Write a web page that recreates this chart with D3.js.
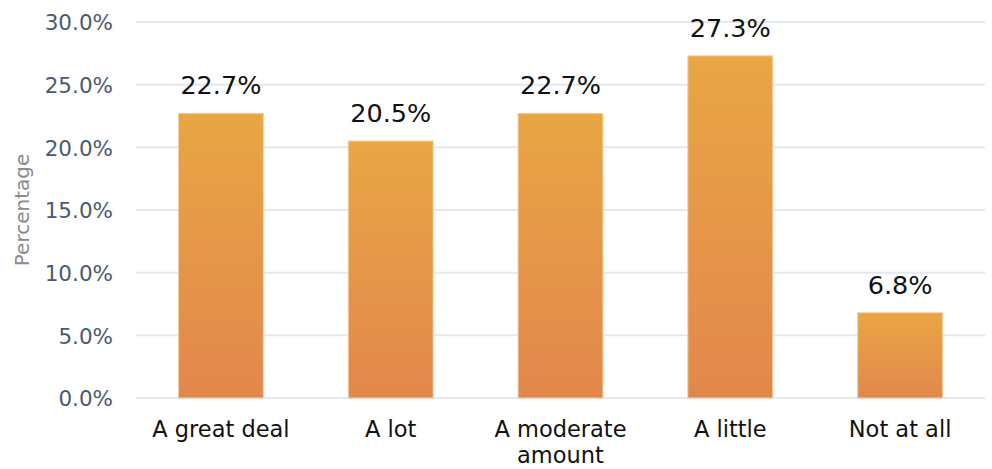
<!DOCTYPE html>
<html>
<head>
<meta charset="utf-8">
<script src="https://cdn.jsdelivr.net/npm/d3@7"></script>
<style>
  body { margin: 0; background: #fff; }
  text { font-family: "DejaVu Sans", "Open Sans", sans-serif; }
</style>
</head>
<body>
<svg id="chart" width="992" height="469"></svg>
<script>
var categories = ["A great deal", "A lot", "A moderate amount", "A little", "Not at all"];
var values = [22.7, 20.5, 22.7, 27.3, 6.8];
var yTicks = [0, 5, 10, 15, 20, 25, 30];

var svg = d3.select("#chart"),
    margin = {top: 22, right: 7, bottom: 71, left: 136},
    width = +svg.attr("width") - margin.left - margin.right,
    height = +svg.attr("height") - margin.top - margin.bottom;

var defs = svg.append("defs");
var grad = defs.append("linearGradient")
    .attr("id", "barGrad")
    .attr("x1", 0).attr("y1", 0).attr("x2", 0).attr("y2", 1);
grad.append("stop").attr("offset", "0%").attr("stop-color", "#e9a644");
grad.append("stop").attr("offset", "100%").attr("stop-color", "#e2874c");

var g = svg.append("g").attr("transform", "translate(" + margin.left + "," + margin.top + ")");

var x = d3.scaleBand().domain(categories).range([0, width]).paddingInner(0.5).paddingOuter(0.25);
var y = d3.scaleLinear().domain([0, 30]).range([height, 0]);

// gridlines
g.append("g")
    .selectAll("line")
    .data(yTicks)
    .enter().append("line")
    .attr("x1", 0)
    .attr("x2", width)
    .attr("y1", function(d) { return y(d); })
    .attr("y2", function(d) { return y(d); })
    .attr("stroke", "#e4e9ef")
    .attr("stroke-width", 2);

// y axis labels
var yAxis = g.append("g")
    .call(d3.axisLeft(y).tickValues(yTicks).tickFormat(function(d) { return d.toFixed(1) + "%"; }).tickSize(0).tickPadding(23));
yAxis.select(".domain").remove();
yAxis.selectAll("text")
    .attr("fill", "#4a5a70")
    .attr("dy", "0.36em")
    .style("font-size", "21.5px");

// bars
g.append("g")
    .selectAll("rect")
    .data(values)
    .enter().append("rect")
    .attr("x", function(d, i) { return x(categories[i]); })
    .attr("y", function(d) { return y(d); })
    .attr("width", x.bandwidth())
    .attr("height", function(d) { return height - y(d); })
    .attr("fill", "url(#barGrad)")
    .attr("stroke", "#f3cfa0")
    .attr("stroke-width", 1);

// value labels
g.append("g")
    .selectAll("text")
    .data(values)
    .enter().append("text")
    .attr("x", function(d, i) { return x(categories[i]) + x.bandwidth() / 2; })
    .attr("y", function(d) { return y(d) - 19; })
    .attr("text-anchor", "middle")
    .attr("fill", "#111")
    .style("font-size", "25.5px")
    .text(function(d) { return d.toFixed(1) + "%"; });

// x labels (wrapped onto two lines where the reference does)
var xLabels = g.append("g")
    .selectAll("text")
    .data(categories)
    .enter().append("text")
    .attr("x", function(d) { return x(d) + x.bandwidth() / 2; })
    .attr("y", height + 39)
    .attr("text-anchor", "middle")
    .attr("fill", "#111")
    .style("font-size", "22.5px");

xLabels.each(function(d) {
  var lines = d === "A moderate amount" ? ["A moderate", "amount"] : [d];
  var t = d3.select(this);
  lines.forEach(function(l, i) {
    t.append("tspan")
        .attr("x", x(d) + x.bandwidth() / 2)
        .attr("dy", i === 0 ? 0 : 26)
        .text(l);
  });
});

// y title
svg.append("text")
    .attr("transform", "translate(29,210) rotate(-90)")
    .attr("text-anchor", "middle")
    .attr("fill", "#8a8a8a")
    .style("font-size", "20px")
    .text("Percentage");
</script>
</body>
</html>
